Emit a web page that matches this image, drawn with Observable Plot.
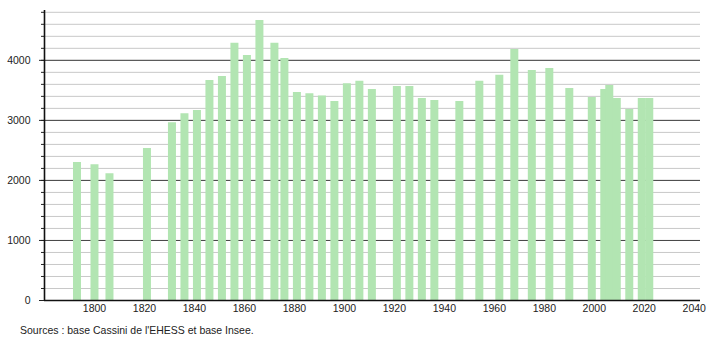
<!DOCTYPE html>
<html>
<head>
<meta charset="utf-8">
<script src="https://cdn.jsdelivr.net/npm/d3@7"></script>
<script src="https://cdn.jsdelivr.net/npm/@observablehq/plot@0.6"></script>
<style>
  body { margin: 0; background: #fff; font-family: "Liberation Sans", Arial, sans-serif; }
  #caption { font-size: 10.5px; color: #222; padding-left: 20px; margin-top: 4px; }
</style>
</head>
<body>
<div id="chart"></div>
<div id="caption">Sources : base Cassini de l'EHESS et base Insee.</div>
<script>
const years = [1793, 1800, 1806, 1821, 1831, 1836, 1841, 1846, 1851, 1856, 1861, 1866, 1872, 1876, 1881, 1886, 1891, 1896, 1901, 1906, 1911, 1921, 1926, 1931, 1936, 1946, 1954, 1962, 1968, 1975, 1982, 1990, 1999, 2004, 2006, 2009, 2014, 2019, 2022];
const population = [2300, 2260, 2110, 2530, 2960, 3110, 3165, 3665, 3730, 4285, 4080, 4665, 4285, 4030, 3465, 3445, 3405, 3315, 3610, 3650, 3515, 3565, 3565, 3365, 3330, 3315, 3650, 3750, 4180, 3830, 3865, 3530, 3380, 3515, 3580, 3365, 3180, 3365, 3365];
const xTicks = [1800, 1820, 1840, 1860, 1880, 1900, 1920, 1940, 1960, 1980, 2000, 2020, 2040];
const yMajor = [0, 1000, 2000, 3000, 4000];
const yMinor = d3.range(0, 4801, 200);

const data = years.map((year, i) => ({year, pop: population[i]}));

const chart = Plot.plot({
  width: 710,
  height: 320,
  marginLeft: 44,
  marginRight: 10,
  marginTop: 10,
  marginBottom: 20,
  style: {fontFamily: "'Liberation Sans', Arial, sans-serif", fontSize: "10.5px", color: "#222", background: "#fff"},
  x: {domain: [1780, 2042.5], label: null},
  y: {domain: [0, 4830], label: null},
  marks: [
    Plot.gridY(yMinor.filter(d => d > 0), {stroke: "#c8c8c8", strokeOpacity: 1}),
    Plot.gridY(yMajor.filter(d => d > 0), {stroke: "#444", strokeOpacity: 1}),
    Plot.ruleX(data, {x: "year", y1: 0, y2: "pop", stroke: "#b2e5b2", strokeWidth: 8}),
    Plot.axisY({ticks: yMinor, tickSize: 3, tickFormat: () => "", label: null, stroke: "#222"}),
    Plot.axisY({ticks: yMajor, tickSize: 5, tickPadding: 9, tickFormat: d => String(d), label: null}),
    Plot.axisX({ticks: xTicks, tickSize: 0, tickPadding: 4, tickFormat: d => String(d), label: null}),
    Plot.ruleY([0], {stroke: "#111", strokeWidth: 1.3}),
    Plot.ruleX([1780], {stroke: "#111", strokeWidth: 1.6})
  ]
});
document.getElementById("chart").appendChild(chart);
</script>
</body>
</html>
